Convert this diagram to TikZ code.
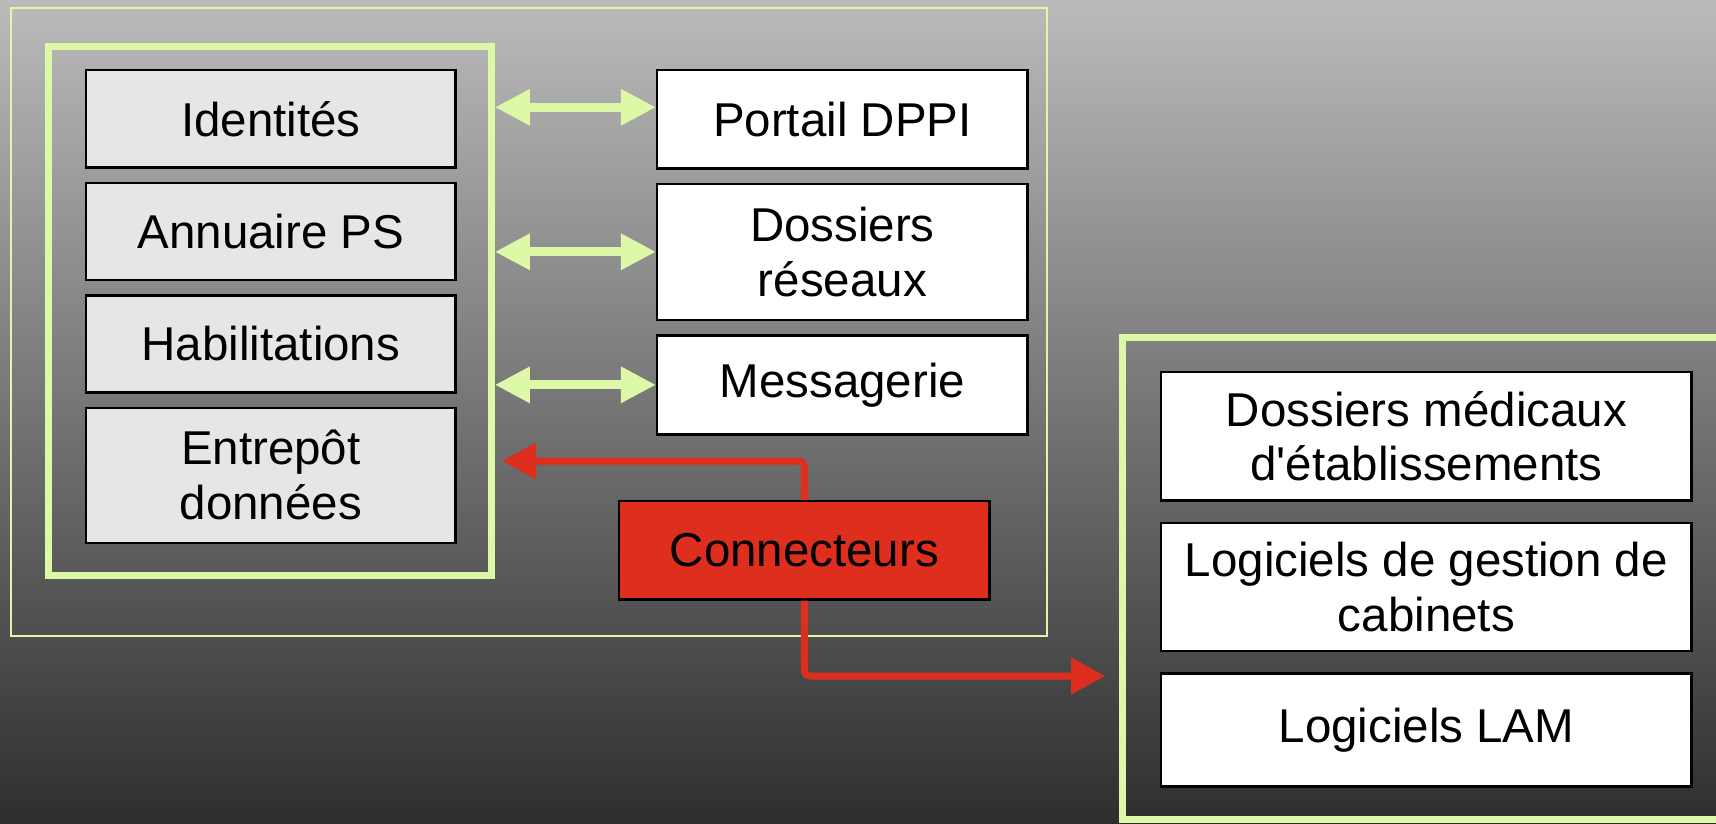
\documentclass[tikz,border=0pt]{standalone}
\usepackage{fontspec}
\setmainfont{Liberation Sans}
\usetikzlibrary{positioning}
\usetikzlibrary{arrows.meta}

\definecolor{bgtop}{RGB}{187,187,187}
\definecolor{bgbot}{RGB}{46,46,46}
\definecolor{framegreen}{RGB}{221,248,166}
\definecolor{boxgray}{RGB}{230,230,230}
\definecolor{connred}{RGB}{222,46,30}

\newcommand{\boxfont}{\fontsize{13.5}{15.6}\selectfont}

\tikzset{
    box/.style={draw=black, line width=0.7pt, inner sep=0pt, align=center,
        font=\boxfont, anchor=north west},
    leftbox/.style={box, fill=boxgray, minimum width=3.69cm, minimum height=0.97cm},
    rightbox/.style={box, fill=white, minimum width=3.70cm, minimum height=0.98cm},
    farbox/.style={box, fill=white, minimum width=5.30cm, minimum height=1.28cm},
    frame/.style={draw=framegreen, line width=1.85pt, inner sep=0pt, anchor=north west},
    greenarrow/.style={draw=framegreen, line width=2.6pt,
        arrows={Triangle[length=3.5mm,width=3.4mm]-Triangle[length=3.5mm,width=3.4mm]}},
    redarrow/.style={draw=connred, line width=2pt, rounded corners=1.5pt,
        -{Triangle[length=3.4mm,width=3.5mm]}}
}

\begin{document}
\begin{tikzpicture}[x=0.01cm, y=-0.01cm, node distance=0.13cm]
    \useasboundingbox (0,0) rectangle (1716,823);
    \clip (0,0) rectangle (1716,823);
    \fill[top color=bgtop, bottom color=bgbot] (0,0) rectangle (1716,823);

    % frames
    \draw[framegreen, line width=0.6pt] (11,8) rectangle (1047,636);
    \node[frame, minimum width=4.43cm, minimum height=5.29cm] (core) at (45,43) {};
    \node[frame, minimum width=6.40cm, minimum height=4.82cm] (ext) at (1119,334) {};

    % services of the platform
    \node[leftbox] (ident) at (85,69) {Identités};
    \node[leftbox, below=of ident] (annu) {Annuaire PS};
    \node[leftbox, below=of annu] (habil) {Habilitations};
    \node[leftbox, below=of habil, minimum height=1.35cm] (entrep) {Entrepôt\\données};

    \node[rightbox] (dppi) at (656,69) {Portail DPPI};
    \node[rightbox, below=of dppi, minimum height=1.36cm] (doss) {Dossiers\\réseaux};
    \node[rightbox, below=of doss, minimum height=0.99cm] (mess) {Messagerie};

    \node[rightbox, fill=connred] (conn) at (618,500) {Connecteurs};

    % outside software
    \node[farbox] (dme) at (1160,371) {Dossiers médicaux\\d\textquotesingle établissements};
    \node[farbox, below=0.2cm of dme] (lgc) {Logiciels de gestion de\\cabinets};
    \node[farbox, below=0.2cm of lgc, minimum height=1.13cm] (lam) {Logiciels LAM};

    % exchanges
    \coordinate (dppiIn) at ([yshift=0.12cm]dppi.west);
    \draw[greenarrow] (core.east |- dppiIn) -- (dppiIn);
    \draw[greenarrow] (core.east |- doss.west) -- (doss.west);
    \draw[greenarrow] (core.east |- mess.west) -- (mess.west);

    \coordinate (inA) at (502,461);
    \coordinate (outB) at (1105,676);
    \draw[redarrow] (conn.north) |- (inA);
    \draw[redarrow] (conn.south) |- (outB);
\end{tikzpicture}
\end{document}
